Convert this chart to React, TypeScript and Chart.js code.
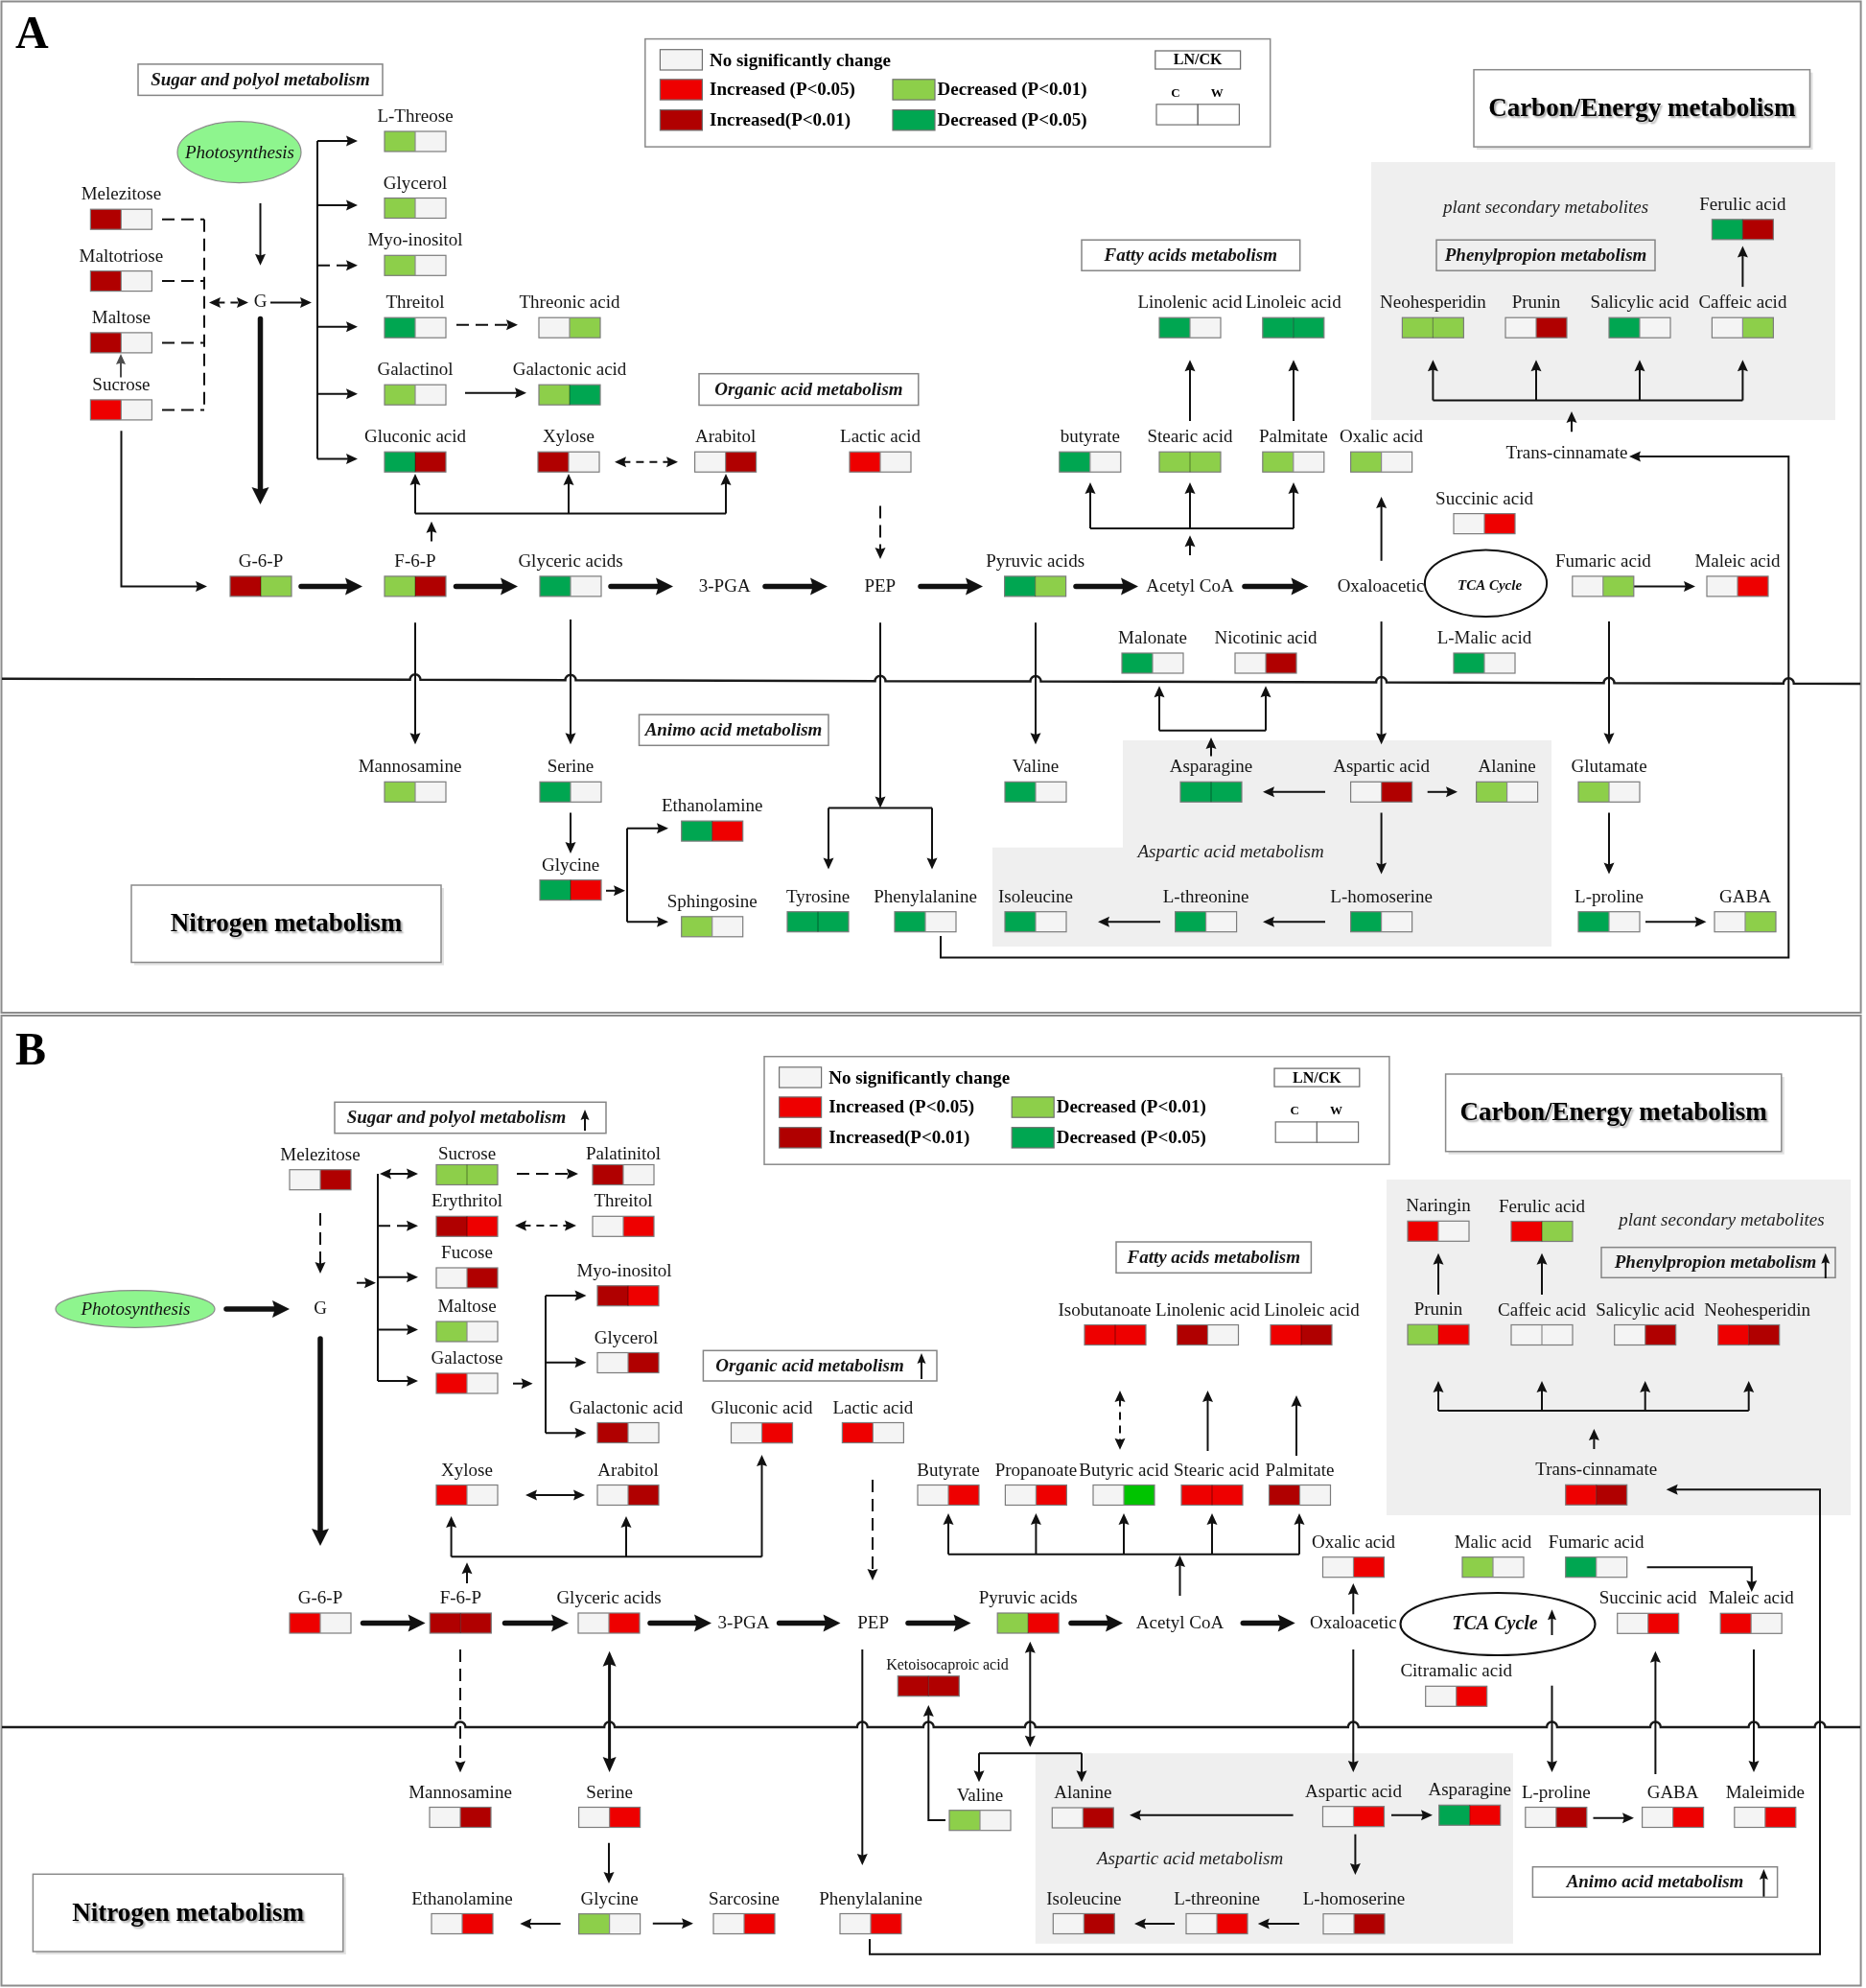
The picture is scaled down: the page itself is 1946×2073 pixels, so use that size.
import { useEffect, useRef } from 'react';
import { Chart, registerables } from 'chart.js';

Chart.register(...registerables);

const W = 1946;
const H = 2073;
const SERIF = "'Liberation Serif', 'Times New Roman', Times, serif";

// ---------------- DATA: panel A (C / W change codes) ----------------
// n = no significant change, r = increased P<0.05, R = increased P<0.01,
// g = decreased P<0.01 (light green), G = decreased P<0.05 (dark green), B = bright green
const metabolitesA = ['Melezitose', 'Maltotriose', 'Maltose', 'Sucrose', 'L-Threose', 'Glycerol', 'Myo-inositol', 'Threitol', 'Threonic acid', 'Galactinol', 'Galactonic acid', 'Gluconic acid', 'Xylose', 'Arabitol', 'Lactic acid', 'G-6-P', 'F-6-P', 'Glyceric acids', 'Pyruvic acids', 'butyrate', 'Stearic acid', 'Palmitate', 'Oxalic acid', 'Linolenic acid', 'Linoleic acid', 'Neohesperidin', 'Prunin', 'Salicylic acid', 'Caffeic acid', 'Ferulic acid', 'Succinic acid', 'Fumaric acid', 'Maleic acid', 'Malonate', 'Nicotinic acid', 'L-Malic acid', 'Mannosamine', 'Serine', 'Glycine', 'Ethanolamine', 'Sphingosine', 'Tyrosine', 'Phenylalanine', 'Valine', 'Isoleucine', 'L-threonine', 'L-homoserine', 'Asparagine', 'Aspartic acid', 'Alanine', 'Glutamate', 'L-proline', 'GABA'];
const changeCA = ['R', 'R', 'R', 'r', 'g', 'g', 'g', 'G', 'n', 'g', 'g', 'G', 'R', 'n', 'r', 'R', 'g', 'G', 'G', 'G', 'g', 'g', 'g', 'G', 'G', 'g', 'n', 'G', 'n', 'G', 'n', 'n', 'n', 'G', 'n', 'G', 'g', 'G', 'G', 'G', 'g', 'G', 'G', 'G', 'G', 'G', 'G', 'G', 'n', 'g', 'g', 'G', 'n'];
const changeWA = ['n', 'n', 'n', 'n', 'n', 'n', 'n', 'n', 'g', 'n', 'G', 'R', 'n', 'R', 'n', 'g', 'R', 'n', 'g', 'n', 'g', 'n', 'n', 'n', 'G', 'g', 'R', 'n', 'g', 'R', 'r', 'g', 'r', 'n', 'R', 'n', 'n', 'n', 'r', 'r', 'n', 'G', 'n', 'n', 'n', 'n', 'n', 'G', 'R', 'n', 'n', 'n', 'g'];
const pathwayTextA = ['G', '3-PGA', 'PEP', 'Acetyl CoA', 'Oxaloacetic', 'Trans-cinnamate'];

// ---------------- DATA: panel B ----------------
const metabolitesB = ['Melezitose', 'Sucrose', 'Palatinitol', 'Erythritol', 'Threitol', 'Fucose', 'Maltose', 'Galactose', 'Myo-inositol', 'Glycerol', 'Galactonic acid', 'Gluconic acid', 'Lactic acid', 'Xylose', 'Arabitol', 'G-6-P', 'F-6-P', 'Glyceric acids', 'Pyruvic acids', 'Ketoisocaproic acid', 'Isobutanoate', 'Linolenic acid', 'Linoleic acid', 'Butyrate', 'Propanoate', 'Butyric acid', 'Stearic acid', 'Palmitate', 'Naringin', 'Ferulic acid', 'Prunin', 'Caffeic acid', 'Salicylic acid', 'Neohesperidin', 'Trans-cinnamate', 'Oxalic acid', 'Malic acid', 'Fumaric acid', 'Succinic acid', 'Maleic acid', 'Citramalic acid', 'Mannosamine', 'Serine', 'Glycine', 'Ethanolamine', 'Sarcosine', 'Phenylalanine', 'Valine', 'Alanine', 'Isoleucine', 'L-threonine', 'L-homoserine', 'Aspartic acid', 'Asparagine', 'L-proline', 'GABA', 'Maleimide'];
const changeCB = ['n', 'g', 'R', 'R', 'n', 'n', 'g', 'r', 'R', 'n', 'R', 'n', 'r', 'r', 'n', 'r', 'R', 'n', 'g', 'R', 'r', 'R', 'r', 'n', 'n', 'n', 'r', 'R', 'r', 'r', 'g', 'n', 'n', 'r', 'r', 'n', 'g', 'G', 'n', 'r', 'n', 'n', 'n', 'g', 'n', 'n', 'n', 'g', 'n', 'n', 'n', 'n', 'n', 'G', 'n', 'n', 'n'];
const changeWB = ['R', 'g', 'n', 'r', 'r', 'R', 'n', 'n', 'r', 'R', 'n', 'r', 'n', 'n', 'R', 'n', 'R', 'r', 'r', 'R', 'r', 'n', 'R', 'r', 'r', 'B', 'r', 'n', 'n', 'g', 'r', 'n', 'R', 'R', 'R', 'r', 'n', 'n', 'r', 'n', 'r', 'R', 'r', 'n', 'r', 'r', 'r', 'n', 'R', 'R', 'r', 'R', 'r', 'r', 'R', 'r', 'r'];
const pathwayTextB = ['G', '3-PGA', 'PEP', 'Acetyl CoA', 'Oxaloacetic'];

// ---------------- DATA: legend / titles ----------------
const legendLabels = ['No significantly change', 'Increased (P<0.05)', 'Increased(P<0.01)', 'Decreased (P<0.01)', 'Decreased (P<0.05)'];
const legendCodes = ['n', 'r', 'R', 'g', 'G'];
const legendHeader = ['LN/CK', 'C', 'W'];
const sectionTitlesA = ['Sugar and polyol metabolism', 'Organic acid metabolism', 'Fatty acids metabolism', 'Phenylpropion metabolism', 'Animo acid metabolism'];
const sectionTitlesB = ['Sugar and polyol metabolism', 'Organic acid metabolism', 'Fatty acids metabolism', 'Phenylpropion metabolism', 'Animo acid metabolism'];
const bigTitles = ['Carbon/Energy metabolism', 'Nitrogen metabolism'];
const italicNotes = ['plant secondary metabolites', 'Aspartic acid metabolism'];
const panelLetters = ['A', 'B'];

// ---------------- STYLE ----------------
const COLORS: Record<string, string> = { n: '#f4f4f4', r: '#ee0000', R: '#b00000', g: '#8dcf4a', G: '#00a651', B: '#00c400' };

// ---------------- LAYOUT (reference pixel space, mapped through chart scales) ----------------
// [x, y, labelDx, labelDy, fontSize]
const posA: number[][] = [[126.4, 228.7], [126.4, 293.1], [126.4, 357.4], [126.4, 427.4], [433, 147.5], [433, 217], [433, 276.8], [433, 341.7], [594, 341.7], [433, 411.7], [594, 411.7], [433, 481.7], [593, 481.7], [756.6, 481.7], [918, 481.7], [272, 611.4], [433, 611.4], [595, 611.4], [1079.6, 611.4], [1136.8, 481.7], [1241, 481.7], [1348.8, 481.7], [1440.6, 481.7], [1241, 341.7], [1348.8, 341.7], [1494.4, 341.7], [1602, 341.7], [1710, 341.7], [1817.4, 341.7], [1817.4, 239.3], [1548, 546.1], [1671.8, 611.4], [1812, 611.4], [1202, 691.5], [1320, 691.5], [1548, 691.5], [433, 825.8, -5.5], [595, 825.8], [595, 928.1], [742.7, 866.6], [742.7, 966.3], [853, 961.2], [965, 961.2], [1080, 825.8], [1080, 961.2], [1257.6, 961.2], [1440.6, 961.2], [1263, 825.8], [1440.6, 825.8], [1571.6, 825.8], [1678, 825.8], [1678, 961.2], [1820, 961.2]];
const textPosA: number[][] = [[271.5, 315.4], [755.7, 612], [917.8, 612], [1241, 612], [1440, 612], [1634, 473.5]];

const posB: number[][] = [[334, 1230.2], [487, 1225, 0, 4], [650, 1225, 0, 4], [487, 1278.8], [650, 1278.8], [487, 1332.5], [487, 1388.5], [487, 1442.5], [655, 1351.2, -4], [655, 1421, -2], [655, 1494, -2], [794.5, 1494.2], [910.4, 1494], [487, 1559], [655, 1559], [334, 1692.5], [480.3, 1692.5], [635, 1692.5], [1072.2, 1692.5], [968.3, 1758.2, 19.6, 3.5, 16], [1163, 1392, -11], [1259.5, 1392], [1357, 1392, 11], [989, 1559], [1080.4, 1559], [1172, 1559], [1264, 1559, 4.6], [1355.5, 1559], [1500, 1283.8], [1608, 1284], [1500, 1391.7], [1608, 1392], [1715.7, 1392], [1823.7, 1392, 9], [1664.7, 1558.8], [1411.5, 1634.2], [1557, 1634.2], [1664.7, 1634.2], [1718.7, 1692.8], [1826.2, 1692.8], [1518.7, 1768.8], [480, 1895], [635.6, 1895], [635.6, 2006.2], [482, 2006], [776, 2006], [908, 2006], [1022, 1898.2], [1129.3, 1895.5], [1130.3, 2006], [1269, 2006], [1412, 2006.2], [1411.5, 1894.2], [1532.7, 1892.8], [1622.8, 1895], [1744.6, 1895], [1840.8, 1895]];
const textPosB: number[][] = [[334, 1365], [775.5, 1693], [910.6, 1693], [1230.5, 1693], [1411.3, 1693.5]];

// title boxes: x1, y1, x2, y2, textCenterX
const titleBoxesA: number[][] = [[144, 66.9, 399, 99.4, 271.5], [729, 389.7, 957.8, 422.5, 843.4], [1128, 250.2, 1355.7, 282.2, 1241.8], [1498, 250.2, 1726, 282.2, 1612], [666.5, 745.2, 864, 777.3, 765]];
const titleBoxesB: number[][] = [[349, 1149.3, 632, 1181.7, 476], [733.4, 1408.3, 977, 1440, 844.5], [1164, 1295, 1367.4, 1327.3, 1265.7], [1670, 1300.7, 1914, 1332.3, 1789], [1598.4, 1946.7, 1853.6, 1978.3, 1726]];
const bigBoxesA: number[][] = [[1537, 72.7, 1887.5, 153.1], [137, 923, 460, 1003.5]];
const bigBoxesB: number[][] = [[1507.6, 1120, 1857.8, 1200.7], [34.4, 1954.3, 357.8, 2035]];
const notesPosA: number[][] = [[1612, 216], [1283.5, 887.8]];
const notesPosB: number[][] = [[1795.4, 1271.7], [1241, 1937.7]];
const grayA: number[][] = [[1430, 169, 1914, 169, 1914, 438, 1430, 438], [1171, 772.1, 1618, 772.1, 1618, 987, 1035, 987, 1035, 883.7, 1171, 883.7]];
const grayB: number[][] = [[1446, 1230, 1930, 1230, 1930, 1580, 1446, 1580], [1079.8, 1828.3, 1577.9, 1828.3, 1577.9, 2026.7, 1079.8, 2026.7]];
const legendOffsets: number[][] = [[0, 0], [124.2, 1061.1]];

const EDGE_STYLE: Record<string, any> = {
  a: { w: 2, L: 12, Wd: 11, end: true },
  A: { w: 5.5, L: 18, Wd: 18, end: true, cap: 'round' },
  l: { w: 2 },
  d: { w: 2, dash: [13, 7], L: 12, Wd: 11, end: true },
  D: { w: 2, dash: [13, 7] },
  e: { w: 2, dash: [8, 6], L: 12, Wd: 11, end: true, start: true },
  b: { w: 2, L: 12, Wd: 11, end: true, start: true },
  B: { w: 3, L: 16, Wd: 14, end: true, start: true },
  g: { w: 2, L: 11, Wd: 10, end: true, color: '#4d4d4d' },
  s: { w: 2, L: 11, Wd: 9, end: true },
};

const edgesA: [number[], string][] = [
  [[169, 228.7, 213, 228.7], 'D'], [[169, 293.1, 213, 293.1], 'D'], [[169, 357.4, 213, 357.4], 'D'], [[169, 427.4, 213, 427.4], 'D'],
  [[213, 228.7, 213, 427.4], 'D'], [[218, 315.4, 259, 315.4], 'e'], [[282, 315.4, 325, 315.4], 'a'],
  [[331, 147, 331, 478.6], 'l'], [[331, 147, 373, 147], 'a'], [[331, 214, 373, 214], 'a'], [[331, 276.8, 373, 276.8], 'd'],
  [[331, 340.7, 373, 340.7], 'a'], [[331, 410.7, 373, 410.7], 'a'], [[331, 478.6, 373, 478.6], 'a'],
  [[476, 338.7, 540, 338.7], 'd'], [[485, 409.7, 549, 409.7], 'a'], [[641, 481.7, 707, 481.7], 'e'],
  [[271.5, 211.9, 271.5, 276.8], 'a'], [[271.5, 332.6, 271.5, 526], 'A'],
  [[126.5, 449.2, 126.5, 611.4, 216, 611.4], 'a'], [[126, 393.4, 126, 369.1], 'g'],
  [[314, 611.4, 378, 611.4], 'A'], [[475.5, 611.4, 540, 611.4], 'A'], [[637, 611.4, 702, 611.4], 'A'], [[798, 611.4, 863, 611.4], 'A'],
  [[960, 611.4, 1025, 611.4], 'A'], [[1122, 611.4, 1187, 611.4], 'A'], [[1298, 611.4, 1364.5, 611.4], 'A'],
  [[450, 564.4, 450, 543.8], 'a'], [[433, 535.5, 757, 535.5], 'l'], [[433, 535.5, 433, 494], 'a'], [[593, 535.5, 593, 494], 'a'], [[757, 535.5, 757, 494], 'a'],
  [[918, 527.4, 918, 583], 'd'], [[1241, 578.9, 1241, 558.2], 'a'],
  [[1137, 551, 1349, 551], 'l'], [[1137, 551, 1137, 503], 'a'], [[1241, 551, 1241, 503], 'a'], [[1349, 551, 1349, 503], 'a'],
  [[1241, 439.1, 1241, 375.2], 'a'], [[1349, 439.1, 1349, 375.2], 'a'], [[1440.6, 584.8, 1440.6, 518], 'a'],
  [[1494.4, 417.5, 1817.4, 417.5], 'l'], [[1494.4, 417.5, 1494.4, 375.2], 'a'], [[1602, 417.5, 1602, 375.2], 'a'],
  [[1710, 417.5, 1710, 375.2], 'a'], [[1817.4, 417.5, 1817.4, 375.2], 'a'], [[1639, 450.2, 1639, 428.9], 'a'],
  [[1817.4, 299.1, 1817.4, 256.5], 'a'], [[1704, 611.4, 1768, 611.4], 'a'],
  [[1440.6, 648.1, 1440.6, 776.2], 'a'], [[1678, 648.1, 1678, 776.2], 'a'], [[433, 649.2, 433, 776.2], 'a'], [[595, 646.1, 595, 776.2], 'a'],
  [[918, 649.2, 918, 842.4], 'a'], [[864, 842.4, 972, 842.4], 'l'], [[864, 842.4, 864, 906.4], 'a'], [[972, 842.4, 972, 906.4], 'a'],
  [[1080, 649.2, 1080, 776.2], 'a'], [[595, 847.5, 595, 889.9], 'a'],
  [[632, 928.8, 652, 928.8], 'a'], [[654, 863.7, 654, 961.2], 'l'], [[654, 863.7, 697, 863.7], 'a'], [[654, 961.2, 697, 961.2], 'a'],
  [[1263, 788.6, 1263, 769], 'a'], [[1209, 761.8, 1320, 761.8], 'l'], [[1209, 761.8, 1209, 715.3], 'a'], [[1320, 761.8, 1320, 715.3], 'a'],
  [[1382, 825.8, 1317, 825.8], 'a'], [[1488.7, 825.8, 1520, 825.8], 'a'], [[1440.6, 847.5, 1440.6, 911.6], 'a'],
  [[1382, 961.2, 1317, 961.2], 'a'], [[1210, 961.2, 1145, 961.2], 'a'], [[1678, 847.5, 1678, 911.6], 'a'], [[1716, 961.2, 1779.5, 961.2], 'a'],
  [[981, 976, 981, 998.4, 1865.3, 998.4, 1865.3, 476, 1699, 476], 'a'],
];

const edgesB: [number[], string][] = [
  [[334, 1265, 334, 1328], 'd'], [[236, 1365, 302, 1365], 'A'], [[334, 1396, 334, 1612], 'A'], [[372, 1337.7, 392, 1337.7], 'a'],
  [[394, 1224, 394, 1440], 'l'], [[396, 1224, 436, 1224], 'b'], [[394, 1278.3, 436, 1278.3], 'd'], [[394, 1331.7, 436, 1331.7], 'a'],
  [[394, 1386.5, 436, 1386.5], 'a'], [[394, 1440, 436, 1440], 'a'], [[539, 1224, 603, 1224], 'd'], [[537, 1278, 601, 1278], 'e'],
  [[535, 1442.7, 555.6, 1442.7], 'a'], [[569, 1351, 569, 1494.3], 'l'], [[569, 1351, 611.5, 1351], 'a'],
  [[569, 1420.7, 611.5, 1420.7], 'a'], [[569, 1494.3, 611.5, 1494.3], 'a'], [[548, 1559, 610, 1559], 'b'],
  [[378.5, 1692.5, 443.6, 1692.5], 'A'], [[526.5, 1692.5, 593, 1692.5], 'A'], [[678, 1692.5, 742, 1692.5], 'A'],
  [[812.6, 1692.5, 876.5, 1692.5], 'A'], [[947, 1692.5, 1012.5, 1692.5], 'A'], [[1117, 1692.5, 1171, 1692.5], 'A'],
  [[1296.3, 1692.5, 1350.7, 1692.5], 'A'],
  [[487, 1651, 487, 1629.3], 'a'], [[470.6, 1623.3, 794.5, 1623.3], 'l'], [[470.6, 1623.3, 470.6, 1581], 'a'],
  [[653, 1623.3, 653, 1581], 'a'], [[794.5, 1623.3, 794.5, 1517], 'a'], [[910, 1543, 910, 1648], 'd'],
  [[1230.5, 1664, 1230.5, 1622], 'a'], [[989, 1620.7, 1355, 1620.7], 'l'], [[989, 1620.7, 989, 1578], 'a'],
  [[1080.4, 1620.7, 1080.4, 1578], 'a'], [[1172, 1620.7, 1172, 1578], 'a'], [[1264, 1620.7, 1264, 1578], 'a'],
  [[1355, 1620.7, 1355, 1578], 'a'], [[1168, 1450, 1168, 1511.7], 'e'], [[1259.5, 1513, 1259.5, 1450], 'a'],
  [[1352, 1518, 1352, 1455], 'a'], [[1500, 1471, 1823.7, 1471], 'l'], [[1500, 1471, 1500, 1440], 'a'],
  [[1608, 1471, 1608, 1440], 'a'], [[1715.7, 1471, 1715.7, 1440], 'a'], [[1823.7, 1471, 1823.7, 1440], 'a'],
  [[1662.4, 1511, 1662.4, 1490], 'a'], [[1500, 1350, 1500, 1306.7], 'a'], [[1608, 1350, 1608, 1306.7], 'a'],
  [[1411.3, 1683.3, 1411.3, 1651], 'a'], [[1717.6, 1634.3, 1826.8, 1634.3, 1826.8, 1660], 'a'],
  [[1411.3, 1720, 1411.3, 1848], 'a'], [[1618.5, 1757.7, 1618.5, 1848], 'a'], [[1726.4, 1850, 1726.4, 1721.7], 'a'],
  [[1829, 1720, 1829, 1848], 'a'], [[480, 1720, 480, 1848.3], 'd'], [[635.6, 1721.7, 635.6, 1848], 'B'],
  [[899.3, 1720, 899.3, 1945], 'a'], [[1074.3, 1711.7, 1074.3, 1821.7], 'b'],
  [[1021, 1828.3, 1128, 1828.3], 'l'], [[1021, 1828.3, 1021, 1858.3], 'a'], [[1128, 1828.3, 1128, 1858.3], 'a'],
  [[986, 1898, 968.3, 1898, 968.3, 1778], 'a'], [[635, 1921.7, 635, 1964], 'a'], [[584.6, 2006, 542.3, 2006], 'a'],
  [[680.8, 2005.7, 723, 2005.7], 'a'], [[1348.6, 1892.7, 1178, 1892.7], 'a'], [[1451, 1892.7, 1494, 1892.7], 'a'],
  [[1413.4, 1912.7, 1413.4, 1955], 'a'], [[1354.9, 2006, 1311.8, 2006], 'a'], [[1225, 2006, 1183, 2006], 'a'],
  [[1661.5, 1895.7, 1704, 1895.7], 'a'],
  [[907, 2022, 907, 2037.7, 1898, 2037.7, 1898, 1553.3, 1737.7, 1553.3], 'a'],
  [[610, 1179, 610, 1157], 's'], [[961, 1438, 961, 1411], 's'], [[1903.8, 1333, 1903.8, 1306.7], 's'],
  [[1839.4, 1977.7, 1839.4, 1949], 's'], [[1618.5, 1705, 1618.5, 1678.3], 's'],
];

const diagramPlugin = {
  id: 'pathwayDiagram',
  beforeDraw(chart: any) {
    const c = chart.ctx;
    c.save();
    c.fillStyle = '#ffffff';
    c.fillRect(0, 0, chart.width, chart.height);
    c.restore();
  },
  afterDraw(chart: any) {
    const ctx: CanvasRenderingContext2D = chart.ctx;
    const xs = chart.scales.x;
    const ys = chart.scales.y;
    const X = (v: number) => xs.getPixelForValue(v);
    const Y = (v: number) => ys.getPixelForValue(v);
    ctx.save();

    const text = (s: string, x: number, y: number, font: string, align: CanvasTextAlign = 'center', base: CanvasTextBaseline = 'alphabetic', color = '#151515') => {
      ctx.font = font;
      ctx.textAlign = align;
      ctx.textBaseline = base;
      ctx.fillStyle = color;
      ctx.fillText(s, X(x), Y(y));
    };
    const rectStroke = (x1: number, y1: number, x2: number, y2: number, color: string, lw: number) => {
      ctx.strokeStyle = color;
      ctx.lineWidth = lw;
      ctx.setLineDash([]);
      ctx.strokeRect(X(x1), Y(y1), X(x2) - X(x1), Y(y2) - Y(y1));
    };
    const poly = (p: number[], fill: string) => {
      ctx.beginPath();
      ctx.moveTo(X(p[0]), Y(p[1]));
      for (let i = 2; i < p.length; i += 2) ctx.lineTo(X(p[i]), Y(p[i + 1]));
      ctx.closePath();
      ctx.fillStyle = fill;
      ctx.fill();
    };
    const head = (tx: number, ty: number, ang: number, L: number, Wd: number) => {
      const c = Math.cos(ang), s = Math.sin(ang);
      const bx = tx - L * c, by = ty - L * s;
      const nx = tx - L * 0.85 * c, ny = ty - L * 0.85 * s;
      ctx.beginPath();
      ctx.moveTo(tx, ty);
      ctx.lineTo(bx + (Wd / 2) * s, by - (Wd / 2) * c);
      ctx.lineTo(nx, ny);
      ctx.lineTo(bx - (Wd / 2) * s, by + (Wd / 2) * c);
      ctx.closePath();
      ctx.fill();
    };
    const edge = (pts: number[], type: string) => {
      const st = EDGE_STYLE[type];
      const P: number[][] = [];
      for (let i = 0; i < pts.length; i += 2) P.push([X(pts[i]), Y(pts[i + 1])]);
      const Q = P.map((p) => [p[0], p[1]]);
      const pull = (a: number[], b: number[], d: number) => {
        const dx = b[0] - a[0], dy = b[1] - a[1];
        const len = Math.hypot(dx, dy) || 1;
        return [b[0] - (dx / len) * d, b[1] - (dy / len) * d];
      };
      const n = P.length;
      if (st.end) Q[n - 1] = pull(P[n - 2], P[n - 1], st.L * 0.7);
      if (st.start) Q[0] = pull(P[1], P[0], st.L * 0.7);
      const color = st.color || '#111111';
      ctx.strokeStyle = color;
      ctx.fillStyle = color;
      ctx.lineWidth = st.w;
      ctx.lineCap = st.cap || 'butt';
      ctx.lineJoin = 'miter';
      ctx.setLineDash(st.dash || []);
      ctx.beginPath();
      ctx.moveTo(Q[0][0], Q[0][1]);
      for (let i = 1; i < n; i++) ctx.lineTo(Q[i][0], Q[i][1]);
      ctx.stroke();
      ctx.setLineDash([]);
      ctx.lineCap = 'butt';
      if (st.end) head(P[n - 1][0], P[n - 1][1], Math.atan2(P[n - 1][1] - P[n - 2][1], P[n - 1][0] - P[n - 2][0]), st.L, st.Wd);
      if (st.start) head(P[0][0], P[0][1], Math.atan2(P[0][1] - P[1][1], P[0][0] - P[1][0]), st.L, st.Wd);
    };
    const separator = (x0: number, y0: number, x1: number, y1: number, bumps: number[]) => {
      const yAt = (x: number) => y0 + ((y1 - y0) * (x - x0)) / (x1 - x0);
      ctx.strokeStyle = '#1a1a1a';
      ctx.lineWidth = 2.5;
      ctx.setLineDash([]);
      ctx.beginPath();
      ctx.moveTo(X(x0), Y(y0));
      bumps.slice().sort((a, b) => a - b).forEach((bx) => {
        const by = yAt(bx);
        ctx.lineTo(X(bx - 5.5), Y(by));
        ctx.arc(X(bx), Y(by), 5.5, Math.PI, 0, false);
      });
      ctx.lineTo(X(x1), Y(y1));
      ctx.stroke();
    };
    const box = (cx: number, cy: number, c: string, w: string) => {
      const l = X(cx - 32), r = X(cx + 32), t = Y(cy - 10.5), b = Y(cy + 10.5), m = X(cx);
      ctx.fillStyle = COLORS[c];
      ctx.fillRect(l, t, m - l, b - t);
      ctx.fillStyle = COLORS[w];
      ctx.fillRect(m, t, r - m, b - t);
      ctx.strokeStyle = '#7c7c7c';
      ctx.lineWidth = 1.2;
      ctx.strokeRect(l, t, r - l, b - t);
      ctx.beginPath();
      ctx.moveTo(m, t);
      ctx.lineTo(m, b);
      ctx.strokeStyle = c !== 'n' && w !== 'n' ? 'rgba(0,0,0,0.35)' : '#8a8a8a';
      ctx.stroke();
    };
    const ellipse = (cx: number, cy: number, rx: number, ry: number, fill: string | null, stroke: string, lw: number) => {
      ctx.beginPath();
      ctx.ellipse(X(cx), Y(cy), X(cx + rx) - X(cx), Y(cy + ry) - Y(cy), 0, 0, Math.PI * 2);
      if (fill) {
        ctx.fillStyle = fill;
        ctx.fill();
      }
      ctx.strokeStyle = stroke;
      ctx.lineWidth = lw;
      ctx.stroke();
    };
    const titleBox = (b: number[], label: string) => {
      rectStroke(b[0], b[1], b[2], b[3], '#858585', 1.5);
      text(label, b[4], (b[1] + b[3]) / 2 + 1, `italic bold 19px ${SERIF}`, 'center', 'middle');
    };
    const bigBox = (b: number[], label: string) => {
      ctx.fillStyle = '#e2e2e2';
      ctx.fillRect(X(b[0]) + 3, Y(b[1]) + 3, X(b[2]) - X(b[0]), Y(b[3]) - Y(b[1]));
      ctx.fillStyle = '#ffffff';
      ctx.fillRect(X(b[0]), Y(b[1]), X(b[2]) - X(b[0]), Y(b[3]) - Y(b[1]));
      rectStroke(b[0], b[1], b[2], b[3], '#8a8a8a', 1.5);
      ctx.save();
      ctx.shadowColor = 'rgba(0,0,0,0.35)';
      ctx.shadowOffsetX = 2;
      ctx.shadowOffsetY = 2;
      ctx.shadowBlur = 2;
      text(label, (b[0] + b[2]) / 2, (b[1] + b[3]) / 2 + 1, `bold 27px ${SERIF}`, 'center', 'middle', '#000');
      ctx.restore();
    };
    const legend = (dx: number, dy: number) => {
      rectStroke(672.8 + dx, 40.6 + dy, 1324.7 + dx, 153.1 + dy, '#8a8a8a', 1.5);
      const sw = [[688.4, 51.7], [688.4, 82.8], [688.4, 114.6], [931, 82.8], [931, 114.6]];
      const tx = [[740, 62.6], [740, 93.3], [740, 125.2], [977.5, 93.3], [977.5, 125.2]];
      legendCodes.forEach((code, i) => {
        const [sx, sy] = sw[i];
        const l = X(sx + dx), t = Y(sy + dy), r = X(sx + 44 + dx), b = Y(sy + 21.3 + dy);
        ctx.fillStyle = COLORS[code];
        ctx.fillRect(l, t, r - l, b - t);
        ctx.strokeStyle = '#707070';
        ctx.lineWidth = 1.2;
        ctx.strokeRect(l, t, r - l, b - t);
        text(legendLabels[i], tx[i][0] + dx, tx[i][1] + dy + 1, `bold 19px ${SERIF}`, 'left', 'middle', '#000');
      });
      rectStroke(1204.8 + dx, 53 + dy, 1293.6 + dx, 72 + dy, '#707070', 1.3);
      text(legendHeader[0], 1249.2 + dx, 63.3 + dy, `bold 16px ${SERIF}`, 'center', 'middle', '#000');
      text(legendHeader[1], 1225.9 + dx, 97.5 + dy, `bold 13px ${SERIF}`, 'center', 'middle', '#000');
      text(legendHeader[2], 1269.2 + dx, 97.5 + dy, `bold 13px ${SERIF}`, 'center', 'middle', '#000');
      ctx.fillStyle = '#ffffff';
      ctx.fillRect(X(1206 + dx), Y(108.8 + dy), X(1292.4 + dx) - X(1206 + dx), Y(130.1 + dy) - Y(108.8 + dy));
      rectStroke(1206 + dx, 108.8 + dy, 1249.2 + dx, 130.1 + dy, '#707070', 1.2);
      rectStroke(1249.2 + dx, 108.8 + dy, 1292.4 + dx, 130.1 + dy, '#707070', 1.2);
    };
    const nodes = (names: string[], cs: string[], ws: string[], pos: number[][]) => {
      names.forEach((nm, i) => {
        const p = pos[i];
        const lx = p[2] || 0, ly = p[3] || 0, fs = p[4] || 19;
        box(p[0], p[1], cs[i], ws[i]);
        text(nm, p[0] + lx, p[1] - 20.5 + ly, `${fs}px ${SERIF}`);
      });
    };

    // gray regions
    grayA.forEach((g) => poly(g, '#efefef'));
    grayB.forEach((g) => poly(g, '#efefef'));

    // panel borders
    rectStroke(1.5, 1.5, 1940.6, 1056, '#8c8c8c', 2);
    rectStroke(1.5, 1059, 1940.6, 2070.5, '#8c8c8c', 2);

    // separators
    separator(2, 707.7, 1940, 712.9, [433, 595, 918, 1080, 1440.6, 1678, 1865.3]);
    separator(2, 1801, 1940, 1801, [480, 635.6, 899.3, 968.3, 1074.3, 1411.3, 1618.5, 1726.4, 1829, 1898]);

    // titles
    titleBoxesA.forEach((b, i) => titleBox(b, sectionTitlesA[i]));
    titleBoxesB.forEach((b, i) => titleBox(b, sectionTitlesB[i]));
    bigBoxesA.forEach((b, i) => bigBox(b, bigTitles[i]));
    bigBoxesB.forEach((b, i) => bigBox(b, bigTitles[i]));
    notesPosA.forEach((p, i) => text(italicNotes[i], p[0], p[1] + 1, `italic 19px ${SERIF}`, 'center', 'middle', '#222'));
    notesPosB.forEach((p, i) => text(italicNotes[i], p[0], p[1] + 1, `italic 19px ${SERIF}`, 'center', 'middle', '#222'));

    // edges
    edgesA.forEach((e) => edge(e[0], e[1]));
    edgesB.forEach((e) => edge(e[0], e[1]));

    // ellipses
    ellipse(249.5, 158.7, 64.5, 32, '#8ef58e', '#8a8a8a', 1.2);
    text('Photosynthesis', 250, 159.7, `italic 19px ${SERIF}`, 'center', 'middle', '#111');
    ellipse(141, 1365, 83, 19.3, '#8ef58e', '#8a8a8a', 1.2);
    text('Photosynthesis', 141.5, 1366, `italic 19px ${SERIF}`, 'center', 'middle', '#111');
    ellipse(1549.5, 608.3, 63.6, 34.8, '#ffffff', '#111', 2);
    text('TCA Cycle', 1553.5, 611, `italic bold 15px ${SERIF}`, 'center', 'middle', '#111');
    ellipse(1562, 1693.5, 101.5, 32.5, '#ffffff', '#111', 2.2);
    text('TCA Cycle', 1559, 1694, `italic bold 20px ${SERIF}`, 'center', 'middle', '#111');
    edge([1618.5, 1705, 1618.5, 1678.3], 's');

    // metabolite boxes
    nodes(metabolitesA, changeCA, changeWA, posA);
    nodes(metabolitesB, changeCB, changeWB, posB);
    pathwayTextA.forEach((t, i) => text(t, textPosA[i][0], textPosA[i][1], `19px ${SERIF}`, 'center', 'middle'));
    pathwayTextB.forEach((t, i) => text(t, textPosB[i][0], textPosB[i][1], `19px ${SERIF}`, 'center', 'middle'));

    // legends
    legendOffsets.forEach((o) => legend(o[0], o[1]));

    // panel letters
    text(panelLetters[0], 16, 49.7, `bold 48px ${SERIF}`, 'left', 'alphabetic', '#000');
    text(panelLetters[1], 16, 1110, `bold 48px ${SERIF}`, 'left', 'alphabetic', '#000');

    ctx.restore();
  },
};

export default function App() {
  const ref = useRef<HTMLCanvasElement | null>(null);
  useEffect(() => {
    document.body.style.margin = '0';
    const canvas = ref.current;
    if (!canvas) return;
    const points = [...posA, ...posB].map((p) => ({ x: p[0], y: p[1] }));
    const chart = new Chart(canvas, {
      type: 'scatter',
      data: { datasets: [{ data: points, pointRadius: 0, pointHoverRadius: 0, showLine: false }] },
      options: {
        responsive: false,
        animation: false,
        devicePixelRatio: 1,
        events: [],
        layout: { padding: 0 },
        scales: {
          x: { type: 'linear', min: 0, max: W, display: false },
          y: { type: 'linear', min: 0, max: H, reverse: true, display: false },
        },
        plugins: { legend: { display: false }, tooltip: { enabled: false } },
      },
      plugins: [diagramPlugin],
    } as any);
    return () => chart.destroy();
  }, []);
  return <canvas ref={ref} width={W} height={H} style={{ display: 'block', width: W, height: H }} />;
}
